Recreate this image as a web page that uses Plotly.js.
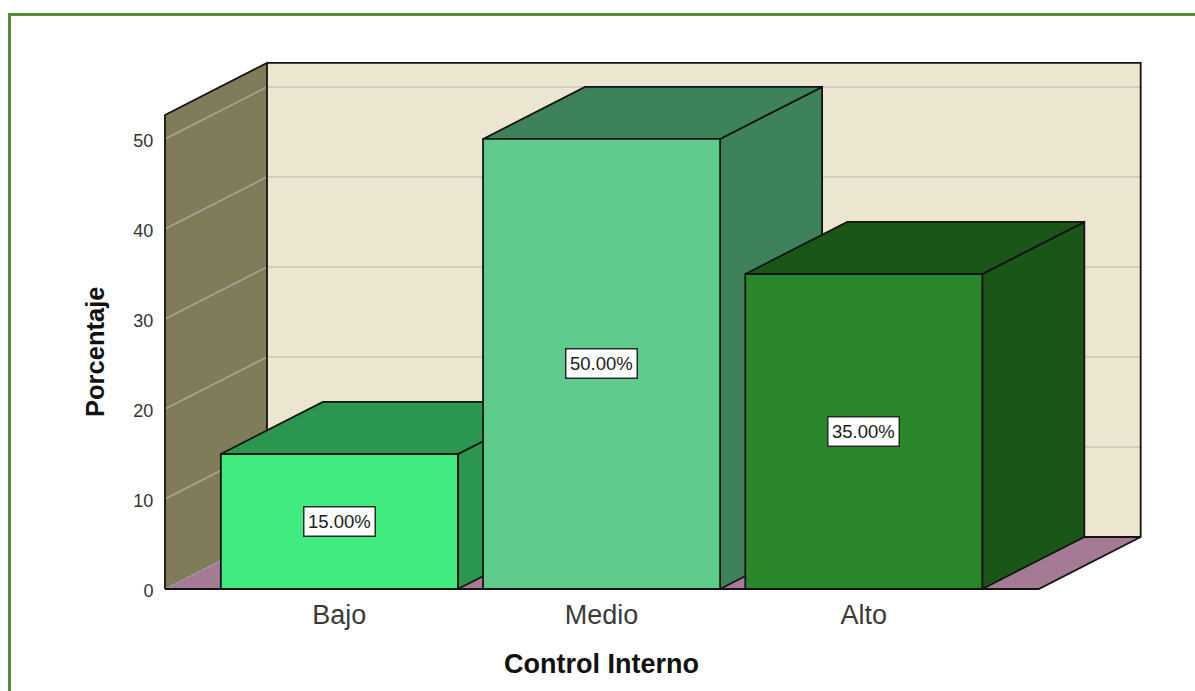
<!DOCTYPE html>
<html>
<head>
<meta charset="utf-8">
<title>Control Interno</title>
<script src="https://cdn.plot.ly/plotly-3.0.1.min.js"></script>
<style>
  html, body { margin: 0; padding: 0; background: #ffffff; overflow: hidden; }
  #frame { position: absolute; left: 8px; top: 13px; right: -5px; bottom: -5px;
           border: 3px solid #5a8a3c; }
  #chart { position: absolute; left: 0; top: 0; width: 1195px; height: 691px; }
</style>
</head>
<body>
<div id="frame"></div>
<div id="chart"></div>
<script>
// Survey result: share of responses per internal control level
const categories = ['Bajo', 'Medio', 'Alto'];
const percentages = [15, 50, 35];
const frontColors = ['#40ec80', '#5ecb8c', '#2a862b'];
const shadeColors = ['#2a9650', '#3d8259', '#1a5618'];
const yTicks = [0, 10, 20, 30, 40, 50];

// Oblique box geometry, in axis units (one category step on x, one percent on y)
const barHalfWidth = 0.452;
const depthX = 0.389;
const depthY = 5.78;
const wallLeft = -0.665;
const floorRight = 2.667;
const wallTop = 52.67;

// Axis ranges carry a small pad so the box outline is not clipped at the plot edge
const xRange = [-0.6764, 3.0724];
const yRange = [-0.222, 58.773];

const fontFamily = 'Liberation Sans, Arial, sans-serif';
const edge = { color: '#141414', width: 1.8 };
const noEdge = { color: 'rgba(0,0,0,0)', width: 0 };

function polygon(points, fill, line) {
  return {
    type: 'scatter', mode: 'lines', fill: 'toself', fillcolor: fill,
    x: points.map(p => p[0]).concat(points[0][0]),
    y: points.map(p => p[1]).concat(points[0][1]),
    line: line || edge, hoverinfo: 'skip', showlegend: false
  };
}

function polyline(points, color, width, dash) {
  return {
    type: 'scatter', mode: 'lines',
    x: points.map(p => p[0]), y: points.map(p => p[1]),
    line: { color: color, width: width, dash: dash || 'solid' },
    hoverinfo: 'skip', showlegend: false
  };
}

const traces = [];

const backLeft = wallLeft + depthX;
const backRight = floorRight + depthX;
const backTop = wallTop + depthY;

// Side wall, back wall and floor fills
traces.push(polygon([[wallLeft, 0], [wallLeft, wallTop], [backLeft, backTop], [backLeft, depthY]], '#807b58', noEdge));
traces.push(polygon([[backLeft, depthY], [backLeft, backTop], [backRight, backTop], [backRight, depthY]], '#ece5d0', noEdge));
traces.push(polygon([[wallLeft, 0], [floorRight, 0], [backRight, depthY], [backLeft, depthY]], '#a57a94', noEdge));

// Value gridlines run across both walls
yTicks.filter(v => v > 0).forEach(v => {
  traces.push(polyline([[wallLeft, v], [backLeft, v + depthY]], '#a9a596', 1.5));
  traces.push(polyline([[backLeft, v + depthY], [backRight, v + depthY]], '#c9c5bb', 1.5));
});

// Box outline; the seam between side wall and floor stays faint
traces.push(polyline([[wallLeft, 0], [backLeft, depthY]], '#9a9a9a', 1.5, 'dot'));
traces.push(polyline([[wallLeft, 0], [wallLeft, wallTop], [backLeft, backTop], [backLeft, depthY], [backRight, depthY]], edge.color, edge.width));
traces.push(polyline([[backLeft, backTop], [backRight, backTop], [backRight, depthY], [floorRight, 0], [wallLeft, 0]], edge.color, edge.width));

// Bars, left to right so each front face covers the previous side face
categories.forEach((name, i) => {
  const l = i - barHalfWidth, r = i + barHalfWidth, v = percentages[i];
  traces.push(polygon([[r, 0], [r, v], [r + depthX, v + depthY], [r + depthX, depthY]], shadeColors[i]));
  traces.push(polygon([[l, v], [r, v], [r + depthX, v + depthY], [l + depthX, v + depthY]], shadeColors[i]));
  traces.push(polygon([[l, 0], [l, v], [r, v], [r, 0]], frontColors[i]));
});

// Value boxes centred on each bar's front face
const annotations = categories.map((name, i) => ({
  x: i, y: percentages[i] / 2, xref: 'x', yref: 'y',
  text: percentages[i].toFixed(2) + '%', showarrow: false,
  bgcolor: '#ffffff', bordercolor: '#2a2a2a', borderwidth: 1.5, borderpad: 3.5,
  font: { family: fontFamily, size: 18.5, color: '#1c1c1c' }
}));

// Axis names sit over the middle bar and the front edge of the side wall
annotations.push({
  x: 1, xref: 'x', y: 0, yref: 'y', yshift: -75, showarrow: false,
  text: '<b>Control Interno</b>',
  font: { family: fontFamily, size: 27, color: '#111111' }
});
annotations.push({
  x: wallLeft, xref: 'x', xshift: -70, y: wallTop / 2, yref: 'y', showarrow: false,
  textangle: -90, text: '<b>Porcentaje</b>',
  font: { family: fontFamily, size: 25.5, color: '#111111' }
});

const layout = {
  width: 1195, height: 691,
  margin: { l: 161.7, r: 50.3, t: 59.7, b: 100.3, pad: 0 },
  paper_bgcolor: 'rgba(0,0,0,0)', plot_bgcolor: 'rgba(0,0,0,0)',
  showlegend: false,
  xaxis: {
    range: xRange, showgrid: false, zeroline: false, showline: false,
    tickmode: 'array', tickvals: categories.map((c, i) => i), ticktext: categories,
    ticks: 'outside', ticklen: 0, tickcolor: 'rgba(0,0,0,0)',
    tickfont: { family: fontFamily, size: 27, color: '#3a3a3a' }
  },
  yaxis: {
    range: yRange, showgrid: false, zeroline: false, showline: false,
    tickmode: 'array', tickvals: yTicks,
    ticks: 'outside', ticklen: 4, tickcolor: 'rgba(0,0,0,0)', ticklabelshift: 2,
    tickfont: { family: fontFamily, size: 18, color: '#333333' }
  },
  annotations: annotations
};

Plotly.newPlot('chart', traces, layout, { displayModeBar: false, staticPlot: true });
</script>
</body>
</html>
